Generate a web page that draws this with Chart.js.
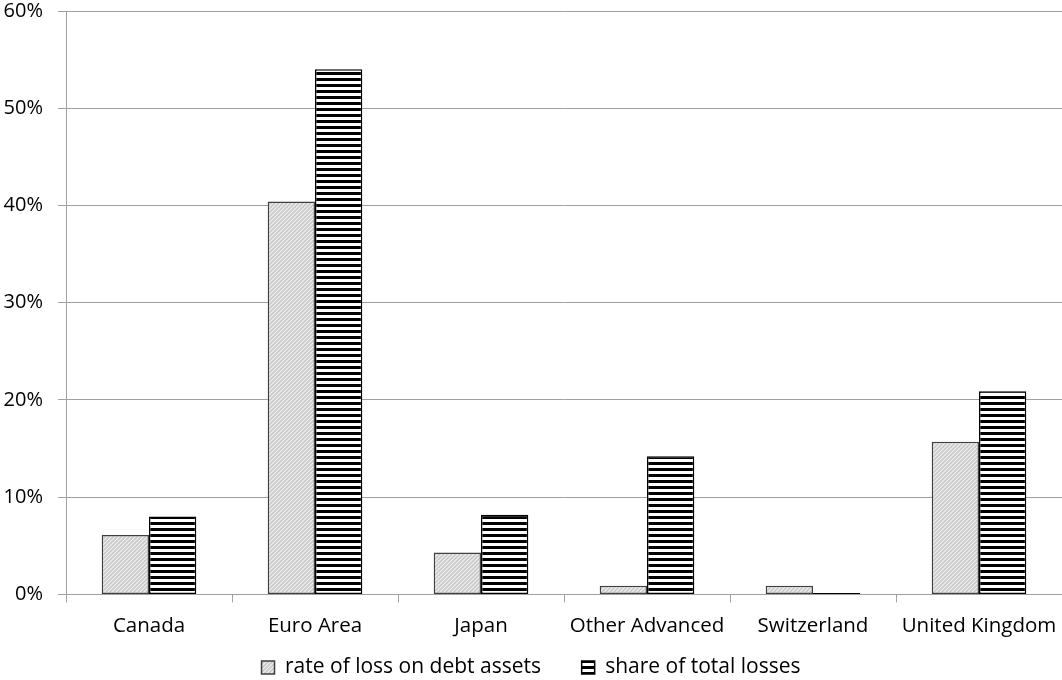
<!DOCTYPE html>
<html>
<head>
<meta charset="utf-8">
<script src="https://cdn.jsdelivr.net/npm/chart.js@4"></script>
<style>
  html, body { margin: 0; padding: 0; background: #fff; }
  #wrap { width: 1062px; height: 680px; }
</style>
</head>
<body>
<div id="wrap"><canvas id="lossChart"></canvas></div>
<script>
const categories = ['Canada', 'Euro Area', 'Japan', 'Other Advanced', 'Switzerland', 'United Kingdom'];
const rateOfLoss = [6.1, 40.4, 4.3, 0.9, 0.9, 15.7];
const shareOfLosses = [8.0, 54.0, 8.2, 14.2, 0.15, 20.9];
const yTicks = [0, 10, 20, 30, 40, 50, 60];

// light grey with white diagonal hatch
function hatchPattern() {
  const c = document.createElement('canvas');
  c.width = 4; c.height = 4;
  const g = c.getContext('2d');
  g.fillStyle = '#c8c8c8';
  g.fillRect(0, 0, 4, 4);
  g.strokeStyle = '#f2f2f2';
  g.lineWidth = 1.2;
  g.beginPath();
  g.moveTo(0, 4); g.lineTo(4, 0);
  g.moveTo(-1, 1); g.lineTo(1, -1);
  g.moveTo(3, 5); g.lineTo(5, 3);
  g.stroke();
  return g.createPattern(c, 'repeat');
}

// black / white horizontal stripes
function stripePattern() {
  const c = document.createElement('canvas');
  c.width = 6; c.height = 6;
  const g = c.getContext('2d');
  g.fillStyle = '#ffffff';
  g.fillRect(0, 0, 6, 6);
  g.fillStyle = '#000000';
  g.fillRect(0, 0, 6, 3);
  return g.createPattern(c, 'repeat');
}

const family = "'Open Sans', 'Liberation Sans', sans-serif";

new Chart(document.getElementById('lossChart'), {
  type: 'bar',
  data: {
    labels: categories,
    datasets: [
      {
        label: 'rate of loss on debt assets',
        data: rateOfLoss,
        backgroundColor: hatchPattern(),
        borderColor: '#404040',
        borderWidth: 1.5,
        borderSkipped: false
      },
      {
        label: 'share of total losses',
        data: shareOfLosses,
        backgroundColor: stripePattern(),
        borderColor: '#000000',
        borderWidth: 1.5,
        borderSkipped: false
      }
    ]
  },
  options: {
    responsive: true,
    maintainAspectRatio: false,
    animation: false,
    layout: { padding: { top: 0, left: 0, right: 0, bottom: -8 } },
    datasets: { bar: { categoryPercentage: 0.57, barPercentage: 1.0 } },
    scales: {
      x: {
        afterFit: axis => { axis.paddingLeft = 0; axis.paddingRight = 0; },
        grid: { offset: true, drawOnChartArea: false, color: '#a0a0a0', tickLength: 8 },
        border: { color: '#a0a0a0' },
        ticks: { color: '#000', font: { family, size: 20.5 }, padding: 11 }
      },
      y: {
        min: 0, max: 60,
        afterBuildTicks: axis => { axis.ticks = yTicks.map(v => ({ value: v })); },
        afterFit: axis => { axis.width = 66; axis.paddingTop = 11; axis.paddingBottom = 0; },
        grid: { color: '#a0a0a0', tickLength: 8 },
        border: { color: '#a0a0a0' },
        ticks: { color: '#000', font: { family, size: 20 }, padding: 15, callback: v => v + '%' }
      }
    },
    plugins: {
      legend: {
        position: 'bottom',
        labels: {
          color: '#000',
          font: { family, size: 21 },
          boxWidth: 13,
          boxHeight: 13,
          padding: 8,
          generateLabels: chart => {
            const items = Chart.defaults.plugins.legend.labels.generateLabels(chart);
            items[0].text += '      ';
            return items;
          }
        }
      },
      tooltip: { enabled: false }
    }
  }
});
</script>
</body>
</html>
